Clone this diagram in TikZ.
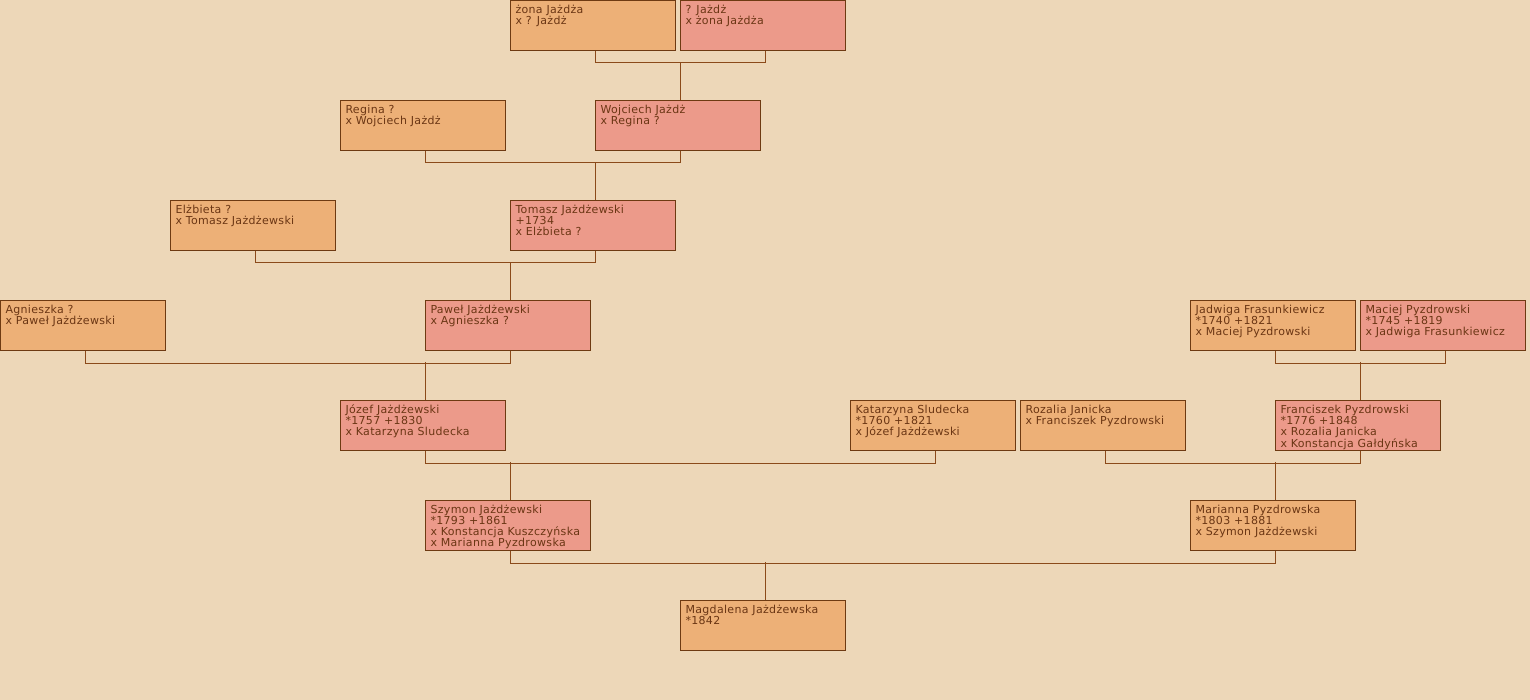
\documentclass[tikz,border=0pt]{standalone}
\usepackage{fontspec}
\setmainfont{DejaVu Sans}[LetterSpace=3]
\usepackage{tikz}
\usetikzlibrary{calc}

\definecolor{tlo}{HTML}{EDD7B8}
\definecolor{kobieta}{HTML}{EDB077}
\definecolor{mezczyzna}{HTML}{EC9A8A}
\definecolor{ramka}{HTML}{6E3A12}
\definecolor{linia}{HTML}{8B4A1A}
\definecolor{napis}{HTML}{6B3614}

\newcommand{\opis}[1]{\begin{minipage}[t][44pt][t]{155pt}\raggedright
  \fontsize{11}{11}\selectfont\rule{0pt}{10pt}#1\end{minipage}}

\begin{document}
\begin{tikzpicture}[
    x = 1pt, y = -1pt,
    osoba/.style = {draw = ramka, line width = 1pt, anchor = north west,
      inner xsep = 5pt, inner ysep = 3pt, text = napis,
      minimum width = 165pt, minimum height = 50pt},
    kob/.style = {osoba, fill = kobieta},   % women
    mez/.style = {osoba, fill = mezczyzna}, % men
    lin/.style = {draw = linia, line width = 1pt}
  ]
  \useasboundingbox (0,0) rectangle (1530,700);
  \fill[tlo] (0,0) rectangle (1530,700);

  % generation 1
  \node[kob] (zona) at (510,0) {\opis{żona Jażdża\\x ? Jażdż}};
  \node[mez] (jazdz) at (680,0) {\opis{? Jażdż\\x żona Jażdża}};

  % generation 2
  \node[kob] (regina) at (340,100) {\opis{Regina ?\\x Wojciech Jażdż}};
  \node[mez] (wojciech) at (595,100) {\opis{Wojciech Jażdż\\x Regina ?}};

  % generation 3
  \node[kob] (elzbieta) at (170,200) {\opis{Elżbieta ?\\x Tomasz Jażdżewski}};
  \node[mez] (tomasz) at (510,200) {\opis{Tomasz Jażdżewski\\+1734\\x Elżbieta ?}};

  % generation 4
  \node[kob] (agnieszka) at (0,300) {\opis{Agnieszka ?\\x Paweł Jażdżewski}};
  \node[mez] (pawel) at (425,300) {\opis{Paweł Jażdżewski\\x Agnieszka ?}};
  \node[kob] (jadwiga) at (1190,300) {\opis{Jadwiga Frasunkiewicz\\{}*1740 +1821\\x Maciej Pyzdrowski}};
  \node[mez] (maciej) at (1360,300) {\opis{Maciej Pyzdrowski\\{}*1745 +1819\\x Jadwiga Frasunkiewicz}};

  % generation 5
  \node[mez] (jozef) at (340,400) {\opis{Józef Jażdżewski\\{}*1757 +1830\\x Katarzyna Sludecka}};
  \node[kob] (katarzyna) at (850,400) {\opis{Katarzyna Sludecka\\{}*1760 +1821\\x Józef Jażdżewski}};
  \node[kob] (rozalia) at (1020,400) {\opis{Rozalia Janicka\\x Franciszek Pyzdrowski}};
  \node[mez] (franciszek) at (1275,400) {\opis{Franciszek Pyzdrowski\\{}*1776 +1848\\x Rozalia Janicka\\x Konstancja Gałdyńska}};

  % generation 6
  \node[mez] (szymon) at (425,500) {\opis{Szymon Jażdżewski\\{}*1793 +1861\\x Konstancja Kuszczyńska\\x Marianna Pyzdrowska}};
  \node[kob] (marianna) at (1190,500) {\opis{Marianna Pyzdrowska\\{}*1803 +1881\\x Szymon Jażdżewski}};

  % generation 7
  \node[kob] (magdalena) at (680,600) {\opis{Magdalena Jażdżewska\\{}*1842}};

  % connectors
  \foreach \a/\b/\c in {zona/jazdz/wojciech, regina/wojciech/tomasz,
      elzbieta/tomasz/pawel, agnieszka/pawel/jozef, jadwiga/maciej/franciszek,
      jozef/katarzyna/szymon, rozalia/franciszek/marianna,
      szymon/marianna/magdalena} {
    \draw[lin] ([xshift=2.5pt]\a.south) -- ++(0,12) -| ([xshift=2.5pt]\b.south);
    \draw[lin] ([xshift=2.5pt]\c.north) -- ++(0,-38);
  }

\end{tikzpicture}
\end{document}
